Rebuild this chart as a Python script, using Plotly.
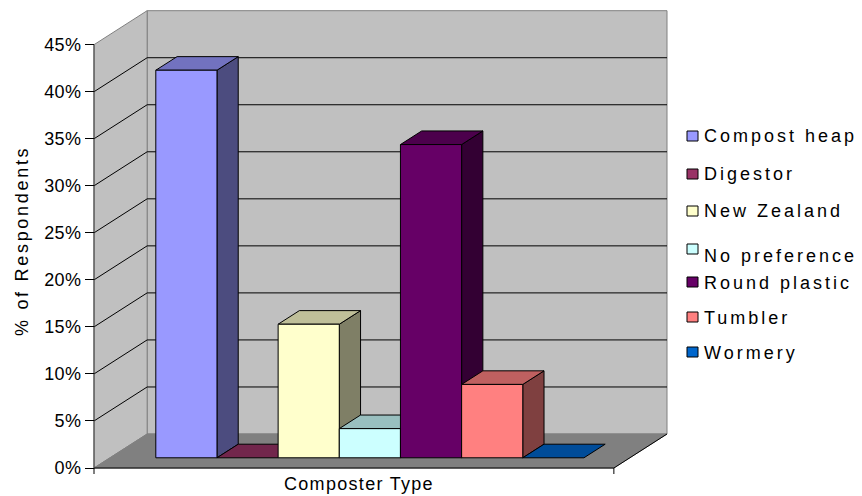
import plotly.graph_objects as go

# ---- data -------------------------------------------------------------
categories = ["Compost heap", "Digestor", "New Zealand", "No preference",
              "Round plastic", "Tumbler", "Wormery"]
percent = [41.2, 0.0, 14.2, 3.1, 33.3, 7.8, 0.0]
bar_colors = ["#9999FF", "#993366", "#FFFFCC", "#CCFFFF",
              "#660066", "#FF8080", "#0066CC"]
y_ticks = [0, 5, 10, 15, 20, 25, 30, 35, 40, 45]
y_tick_labels = [f"{t}%" for t in y_ticks]
x_title = "Composter Type"
y_title = "% of Respondents"

# ---- 3-D box geometry (x in bar widths, y in percent) -------------------
W, H = 862, 496
ORIGIN_PX = (94, 468)          # front-left-bottom corner of the box
PX_PER_X = 61.16
PX_PER_Y = 9.407
GAP = 1.5                      # gap width between box side and bars
FLOOR_W = len(categories) + GAP
DX, DY = 0.869, 3.614          # full depth of the box
F0, F1 = 0.3, 0.7              # bar depth span as fraction of box depth
Y_TOP = y_ticks[-1]

WALL = "#C0C0C0"
FLOOR = "#808080"
EDGE = "#808080"
FONT = "Liberation Sans, Arial, sans-serif"
FONT_SIZE = 18

x_range = [(0 - ORIGIN_PX[0]) / PX_PER_X, (W - ORIGIN_PX[0]) / PX_PER_X]
y_range = [(ORIGIN_PX[1] - H) / PX_PER_Y, ORIGIN_PX[1] / PX_PER_Y]


def shade(hex_color, k):
    r, g, b = (int(hex_color[i:i + 2], 16) for i in (1, 3, 5))
    return "#{:02X}{:02X}{:02X}".format(int(r * k), int(g * k), int(b * k))


def spaced(text, px):
    return f'<span style="letter-spacing:{px}px">{text}</span>'


fig = go.Figure()


def poly(xs, ys, fill, line_color="black", width=1):
    fig.add_trace(go.Scatter(
        x=list(xs) + [xs[0]], y=list(ys) + [ys[0]], mode="lines",
        fill="toself", fillcolor=fill,
        line=dict(color=line_color, width=width),
        hoverinfo="skip", showlegend=False))


def segs(pairs, color, width=1):
    xs, ys = [], []
    for (x0, y0), (x1, y1) in pairs:
        xs += [x0, x1, None]
        ys += [y0, y1, None]
    fig.add_trace(go.Scatter(x=xs, y=ys, mode="lines",
                             line=dict(color=color, width=width),
                             hoverinfo="skip", showlegend=False))


# back wall, side wall, floor
poly([DX, FLOOR_W + DX, FLOOR_W + DX, DX],
     [DY, DY, Y_TOP + DY, Y_TOP + DY], WALL, EDGE)
poly([0, DX, DX, 0], [0, DY, Y_TOP + DY, Y_TOP], WALL, EDGE)
poly([0, FLOOR_W, FLOOR_W + DX, DX], [0, 0, DY, DY], FLOOR, FLOOR)

# gridlines on the walls
grid = []
for t in y_ticks[1:-1]:
    grid.append(((0, t), (DX, t + DY)))
    grid.append(((DX, t + DY), (FLOOR_W + DX, t + DY)))
segs(grid, "black")

# floor edges, axis line and end ticks
tick_drop = 6 / PX_PER_Y
segs([((0, 0), (FLOOR_W, 0)),
      ((FLOOR_W, 0), (FLOOR_W + DX, DY)),
      ((0, 0), (0, -tick_drop)),
      ((FLOOR_W, 0), (FLOOR_W, -tick_drop))], "black")
segs([((0, 0), (0, Y_TOP))], "#404040")

# bars, drawn left to right so nearer faces cover the previous side face
a, b = F0 * DX, F0 * DY
c, d = F1 * DX, F1 * DY
for i, (v, col) in enumerate(zip(percent, bar_colors)):
    xl = GAP / 2 + i
    xr = xl + 1
    if v > 0:
        poly([xr + a, xr + c, xr + c, xr + a], [b, d, d + v, b + v],
             shade(col, 0.5))
    poly([xl + a, xr + a, xr + c, xl + c], [b + v, b + v, d + v, d + v],
         shade(col, 0.75))
    if v > 0:
        poly([xl + a, xr + a, xr + a, xl + a], [b, b, b + v, b + v], col)

# legend: swatch and label for each category
legend_text_y = [135.5, 173.3, 210.0, 255.3, 281.7, 316.7, 351.7]
legend_swatch_y = [136.0, 174.0, 211.0, 249.0, 282.0, 317.0, 352.0]
shapes = []
annotations = []
for name, col, ty, sy in zip(categories, bar_colors, legend_text_y, legend_swatch_y):
    shapes.append(dict(type="rect", xref="paper", yref="paper",
                       x0=687 / W, x1=698 / W,
                       y0=1 - (sy + 5) / H, y1=1 - (sy - 5) / H,
                       fillcolor=col, line=dict(color="black", width=1)))
    annotations.append(dict(xref="paper", yref="paper", x=702 / W,
                            y=1 - (ty + 1) / H, xanchor="left",
                            yanchor="middle", showarrow=False,
                            text=spaced(name, 3.0),
                            font=dict(family=FONT, size=FONT_SIZE,
                                      color="black")))

annotations.append(dict(xref="paper", yref="paper", x=359 / W,
                        y=1 - 484 / H, xanchor="center", yanchor="middle",
                        showarrow=False, text=spaced(x_title, 1.3),
                        font=dict(family=FONT, size=FONT_SIZE,
                                  color="black")))
annotations.append(dict(xref="paper", yref="paper", x=22 / W,
                        y=1 - 241 / H, xanchor="center", yanchor="middle",
                        showarrow=False, textangle=-90,
                        text=spaced(y_title, 2.7),
                        font=dict(family=FONT, size=FONT_SIZE,
                                  color="black")))

fig.update_layout(
    width=W, height=H, autosize=False,
    margin=dict(l=0, r=0, t=0, b=0),
    paper_bgcolor="white", plot_bgcolor="white",
    showlegend=False,
    xaxis=dict(range=x_range, domain=[0, 1], visible=False,
               fixedrange=True),
    yaxis=dict(range=y_range, domain=[0, 1], anchor="free",
               position=ORIGIN_PX[0] / W, showgrid=False, zeroline=False,
               showline=False, tickmode="array", tickvals=y_ticks,
               ticktext=[spaced(t, 0.4) for t in y_tick_labels],
               ticks="outside", ticklen=9, tickcolor="black",
               tickfont=dict(family=FONT, size=FONT_SIZE, color="black"),
               fixedrange=True),
    shapes=shapes,
    annotations=annotations,
)

fig.write_html("out.html")
